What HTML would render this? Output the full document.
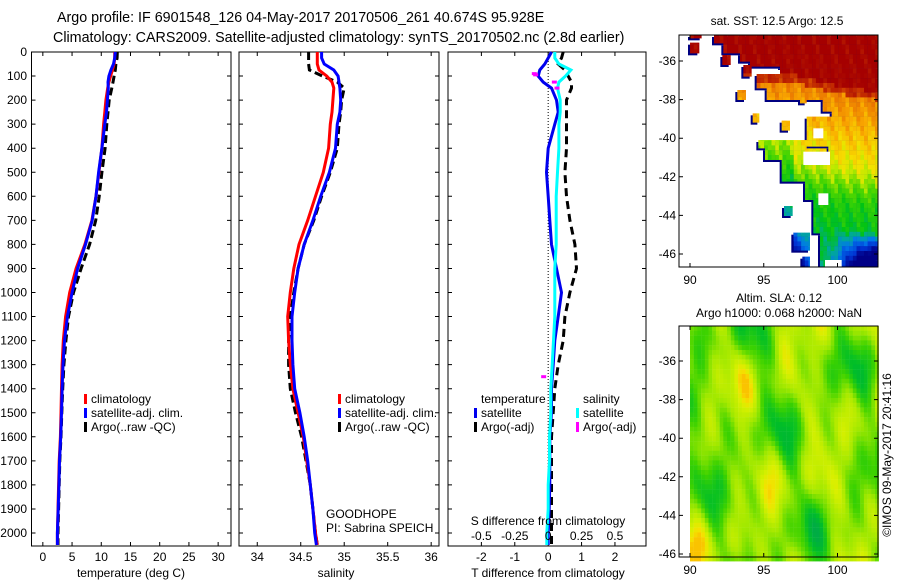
<!DOCTYPE html>
<html><head><meta charset="utf-8"><style>
html,body{margin:0;padding:0;background:#fff;}
svg{display:block;font-family:"Liberation Sans",Arial,sans-serif;font-size:12px;}
</style></head><body>
<svg id="fig" width="900" height="580" viewBox="0 0 900 580" xmlns="http://www.w3.org/2000/svg">
<text x="57" y="22" style="font-size:14.3px">Argo profile: IF 6901548_126 04-May-2017 20170506_261 40.674S 95.928E</text>
<text x="53" y="42" style="font-size:14.3px">Climatology: CARS2009. Satellite-adjusted climatology: synTS_20170502.nc (2.8d earlier)</text>
<g id="p1"></g>
<g id="p2"></g>
<g id="p3"></g>
<g id="m1"></g>
<g id="m2"></g>
<text transform="translate(891,455) rotate(-90)" text-anchor="middle">©IMOS 09-May-2017 20:41:16</text>
</svg>
<script>
// ---- profile data ----
const depths   = [0,25,50,75,100,125,150,200,250,300,400,500,600,700,800,900,1000,1100,1200,1300,1400,1500,1600,1700,1800,1900,2000,2050];
const tClim    = [12.3,12.3,12.2,11.9,11.6,11.3,11.1,10.8,10.6,10.4,10.1,9.6,9.1,8.4,7.2,5.7,4.6,3.9,3.5,3.3,3.2,3.1,3.0,2.8,2.7,2.6,2.5,2.5];
const tSatDiff = [0.1,0.0,-0.1,-0.25,-0.3,-0.15,0.1,0.25,0.3,0.2,0.0,-0.05,0.0,0.05,0.1,0.25,0.4,0.3,0.2,0.15,0.1,0.1,0.05,0.05,0.05,0.03,0.0,0.0];
const tArgoDiff= [0.45,0.4,0.3,0.5,0.6,0.7,0.7,0.55,0.55,0.55,0.55,0.5,0.55,0.65,0.8,0.85,0.65,0.5,0.45,0.3,0.2,0.15,0.1,0.1,0.1,0.1,0.1,0.1];
const sClim    = [34.69,34.69,34.69,34.71,34.80,34.86,34.88,34.87,34.86,34.84,34.82,34.76,34.67,34.58,34.48,34.42,34.38,34.35,34.36,34.38,34.41,34.47,34.53,34.57,34.61,34.64,34.67,34.69];
const sSatDiff = [0.05,0.05,0.08,0.17,0.13,0.08,0.07,0.09,0.09,0.08,0.08,0.07,0.06,0.06,0.06,0.05,0.05,0.05,0.04,0.03,0.02,0.02,0.01,0.01,0.0,0.0,-0.01,-0.01];
const sArgoDiff= [-0.1,-0.1,-0.1,-0.11,-0.05,0.06,0.12,0.1,0.1,0.1,0.1,0.08,0.07,0.07,0.06,0.05,0.04,0.03,0.0,-0.02,-0.03,-0.03,-0.02,-0.01,0,0,0,0];
const sAdjDepth= [90,95,125,150,1350];
const sAdjDiff = [-0.1,-0.09,0.05,0.07,-0.03];
const tTicks = [0,5,10,15,20,25,30];
const sTicks = [34,34.5,35,35.5,36];
const dTicks = [-2,-1,0,1,2];
const dsTicks= [-0.5,-0.25,0,0.25,0.5];
const depthTicks = [0,100,200,300,400,500,600,700,800,900,1000,1100,1200,1300,1400,1500,1600,1700,1800,1900,2000];

const NS="http://www.w3.org/2000/svg";
function mk(parent,tag,attrs,text){const e=document.createElementNS(NS,tag);for(const k in attrs)e.setAttribute(k,attrs[k]);if(text!==undefined)e.textContent=text;parent.appendChild(e);return e;}
const TOP=52,BOT=546;
const yD=d=>TOP+(d/2054)*(BOT-TOP);
function lin(d0,d1,r0,r1){return v=>r0+(v-d0)/(d1-d0)*(r1-r0);}
const xT=lin(-1.94,32.2,31.5,231);
const xS=lin(33.79,36.09,239,439);
const xD=lin(-3.0,2.93,448,646);

function frame(g,x0,x1,xticks,xf,labelsY){
  const r=mk(g,'rect',{x:x0,y:TOP,width:x1-x0,height:BOT-TOP,fill:'none',stroke:'#000','stroke-width':1});
  
  
  depthTicks.forEach(d=>{const y=yD(d);
    const t=mk(g,'path',{d:`M${x0} ${y}h4M${x1} ${y}h-4`,stroke:'#000'});
    
    
    if(labelsY){const l=mk(g,'text',{x:27,y:y+4,'text-anchor':'end'},String(d));
      
      }
  });
  xticks.forEach(v=>{const x=xf(v);
    const t=mk(g,'path',{d:`M${x} ${TOP}v4M${x} ${BOT}v-4`,stroke:'#000'});
    
    
    const l=mk(g,'text',{x:x,y:561,'text-anchor':'middle'},String(v));
    
    
  });
}
function line(g,xs,ds,xf,color,dash,name,w){
  const pts=xs.map((v,i)=>xf(v).toFixed(1)+','+yD(ds[i]).toFixed(1)).join(' ');
  const a={points:pts,fill:'none',stroke:color,'stroke-width':w||3};
  if(dash)a['stroke-dasharray']=dash;
  const p=mk(g,'polyline',a);
  
  
}
function legend(g,x,items,y0){
  items.forEach((it,i)=>{const y=y0+i*14;
    const m=mk(g,'rect',{x:x,y:y-9,width:3,height:10,fill:it[1]});
    
    
    const t=mk(g,'text',{x:x+7,y:y},it[0]);
    
    
  });
}
function txt(g,x,y,s,name,anchor){const t=mk(g,'text',{x:x,y:y,'text-anchor':anchor||'start'},s);
  
  }

// panel 1
const p1=document.getElementById('p1');
frame(p1,31.5,231,tTicks,xT,true);
line(p1,tClim.map((v,i)=>v+tArgoDiff[i]),depths,xT,'#000','8 4','argo-temperature-line');
line(p1,tClim,depths,xT,'#ff0000',null,'climatology-temperature-line');
line(p1,tClim.map((v,i)=>v+tSatDiff[i]),depths,xT,'#0000ff',null,'satellite-temperature-line');
legend(p1,84,[['climatology','#ff0000'],['satellite-adj. clim.','#0000ff'],['Argo(..raw -QC)','#000']],403);
txt(p1,131,577,'temperature (deg C)','x-axis-title','middle');

// panel 2
const p2=document.getElementById('p2');
frame(p2,239,439,sTicks,xS,false);
line(p2,sClim.map((v,i)=>v+sArgoDiff[i]),depths,xS,'#000','8 4','argo-salinity-line');
line(p2,sClim,depths,xS,'#ff0000',null,'climatology-salinity-line');
line(p2,sClim.map((v,i)=>v+sSatDiff[i]),depths,xS,'#0000ff',null,'satellite-salinity-line');
legend(p2,338,[['climatology','#ff0000'],['satellite-adj. clim.','#0000ff'],['Argo(..raw -QC)','#000']],403);
txt(p2,326,518,'GOODHOPE','float-project-label');
txt(p2,326,532,'PI: Sabrina SPEICH','pi-label');
txt(p2,336,577,'salinity','x-axis-title','middle');

// panel 3
const p3=document.getElementById('p3');
frame(p3,448,646,dTicks,xD,false);
const z=mk(p3,'line',{x1:xD(0),x2:xD(0),y1:TOP,y2:BOT,stroke:'#000','stroke-dasharray':'1 2'});


line(p3,tArgoDiff,depths,xD,'#000','8 5','argo-temperature-diff-line');
line(p3,tSatDiff,depths,xD,'#0000ee',null,'satellite-temperature-diff-line');
line(p3,sSatDiff.map(v=>v*4),depths,xD,'#00ffff',null,'satellite-salinity-diff-line');
sAdjDiff.forEach((v,i)=>{const r=mk(p3,'rect',{x:xD(v*4)-3,y:yD(sAdjDepth[i])-1.5,width:5,height:3,fill:'#ff00ff'});
  
  });
txt(p3,481,403,'temperature','legend-title-temperature');
txt(p3,583,403,'salinity','legend-title-salinity');
legend(p3,474,[['satellite','#0000ee'],['Argo(-adj)','#000']],417);
legend(p3,576,[['satellite','#00ffff'],['Argo(-adj)','#ff00ff']],417);
txt(p3,548,525,'S difference from climatology','s-axis-title','middle');
dsTicks.forEach(v=>txt(p3,xD(v*4),540,String(v),'s-tick-label','middle'));
txt(p3,548,577,'T difference from climatology','x-axis-title','middle');

// ---- maps ----
const MX0=679,MX1=878;
const xLon=lin(90,100,690,837.5);
function mapFrame(g,y0,y1,lat0y){
  const yLat=lin(-36,-46,lat0y,lat0y+193);
  [-36,-38,-40,-42,-44,-46].forEach(la=>{const y=yLat(la);
    const t=mk(g,'path',{d:`M${MX0} ${y}h4M${MX1} ${y}h-4`,stroke:'#000'});
    
    
    txt(g,676,y+4,String(la),'lat-tick-label','end');});
  [90,95,100].forEach(lo=>{const x=xLon(lo);
    const t=mk(g,'path',{d:`M${x} ${y0}v4M${x} ${y1}v-4`,stroke:'#000'});
    
    
    txt(g,x,y1+17,String(lo),'lon-tick-label','middle');});
  const r=mk(g,'rect',{x:MX0,y:y0,width:MX1-MX0,height:y1-y0,fill:'none',stroke:'#000'});
  
  
}
const sstStops=[[0,[0,0,135]],[0.12,[0,50,210]],[0.25,[0,120,235]],[0.34,[0,170,150]],[0.42,[0,195,20]],[0.52,[80,215,0]],[0.58,[190,235,0]],[0.64,[245,225,0]],[0.72,[250,170,0]],[0.8,[235,120,0]],[0.88,[200,50,0]],[1,[165,0,0]]];
function cmap(stops,v){v=Math.max(0,Math.min(1,v));for(let i=1;i<stops.length;i++){if(v<=stops[i][0]){const a=stops[i-1],b=stops[i];const f=(v-a[0])/(b[0]-a[0]);return 'rgb('+a[1].map((c,k)=>Math.round(c+(b[1][k]-c)*f)).join(',')+')';}}return 'rgb('+stops[stops.length-1][1].join(',')+')';}

// map1 SST
const m1=document.getElementById('m1');
txt(m1,777,25,'sat. SST: 12.5 Argo: 12.5','sst-map-title','middle');
const Y10=35,Y11=267;
const maskZ=[[222,713,105,130],[250,713,130,160],[300,713,160,185],[330,713,185,200],[420,713,200,222],[350,713,222,265],[380,713,265,300],[480,500,285,310],[548,713,300,335],[575,713,335,350],[500,713,350,440],[565,713,440,500],[355,500,420,445],[375,560,445,480],[425,590,480,545],[495,713,500,545],[495,713,545,600],[520,713,600,700],[540,713,700,802],
 [150,178,128,160],[150,185,105,115],[247,272,165,195],[310,335,195,230],[292,318,270,300],[338,358,340,368],[425,450,362,392],[432,458,618,648],[460,510,698,752],[487,510,770,802]];
const holesZ=[[520,550,385,415],[490,570,455,495],[535,565,580,615],[555,605,780,802],[380,420,210,222]];
const clip=mk(m1,'clipPath',{id:'sstclip'});
const fc=mk(m1,'clipPath',{id:'frame1'});mk(fc,'rect',{x:MX0,y:Y10,width:MX1-MX0,height:Y11-Y10});
const shadow=mk(m1,'g',{fill:'#000080','clip-path':'url(#frame1)'});


maskZ.forEach(r=>{const x=640+r[0]/3,w=(r[1]-r[0])/3,y=r[2]/3,h=(r[3]-r[2])/3;
  mk(clip,'rect',{x:x,y:y,width:w,height:h});
  mk(shadow,'rect',{x:x-2,y:y+2,width:w,height:h});});
const cells1=mk(m1,'g',{'clip-path':'url(#sstclip)'});


const lonOf=lin(690,837.5,90,100), latOf=lin(61,254,-36,-46);
for(let y=Y10;y<Y11;y+=4.8){for(let x=MX0;x<MX1;x+=3.7){
  const lo=lonOf(x+1.8),la=latOf(y+2.4);
  const front = lo<97? -36.7 : (lo<100? -36.7-(lo-97)*0.2 : -37.3-(lo-100)*0.12);
  const d=front-la;
  let v;
  if(d<0) v=1.0;
  else if(d<0.4) v=0.9;
  else if(d<4) v=0.8-0.045*d;
  else if(d<6) v=0.62-0.08*(d-4);
  else v=0.46-0.03*(d-6);
  if(d>0){
    v-=Math.max(0,lo-99.5)*Math.max(0,d-7.3)*0.14;
    v-=Math.max(0,98.8-lo)*Math.max(0,d-7.5)*0.12;
    if(d>3&&lo<97) v-=0.08;
  }
  v+=0.03*Math.sin(lo*6.1+la*2.3)+0.02*Math.sin(lo*13+la*7);
  mk(cells1,'rect',{x:x.toFixed(1),y:y.toFixed(1),width:3.9,height:5,fill:cmap(sstStops,v)});
}}
const holes=mk(m1,'g',{fill:'#fff'});


holesZ.forEach(r=>mk(holes,'rect',{x:640+r[0]/3,y:r[2]/3,width:(r[1]-r[0])/3,height:(r[3]-r[2])/3}));
mapFrame(m1,Y10,Y11,61);

// map2 SLA
const m2=document.getElementById('m2');
txt(m2,779,302,'Altim. SLA: 0.12','sla-map-title-line1','middle');
txt(m2,779,317,'Argo h1000: 0.068 h2000: NaN','sla-map-title-line2','middle');
const Y20=326,Y21=557;
const slaStops=[[0,[0,165,80]],[0.25,[0,190,40]],[0.45,[60,210,0]],[0.65,[160,232,0]],[0.85,[215,240,0]],[0.95,[245,225,0]],[1,[250,195,0]]];
const cells2=mk(m2,'g',{});


const latOf2=lin(Y20+35,Y20+228,-36,-46);
for(let y=Y20;y<Y21;y+=4.8){for(let x=690;x<MX1;x+=3.7){
  const lo=lonOf(x+1.8),la=latOf2(y+2.4);
  let v=0.6+0.14*Math.sin(lo*1.13+la*0.41)+0.12*Math.sin(lo*0.57-la*0.93+1.3)+0.1*Math.sin(lo*1.91+la*0.77+2.1)
       +0.08*Math.cos(lo*2.73-la*0.36+0.4)+0.07*Math.sin(lo*0.31+la*1.37+4.2)+0.05*Math.cos(lo*3.7+la*1.9);
  mk(cells2,'rect',{x:x.toFixed(1),y:y.toFixed(1),width:3.9,height:5,fill:cmap(slaStops,v)});
}}
mapFrame(m2,Y20,Y21,Y20+35);
</script>
</body></html>
